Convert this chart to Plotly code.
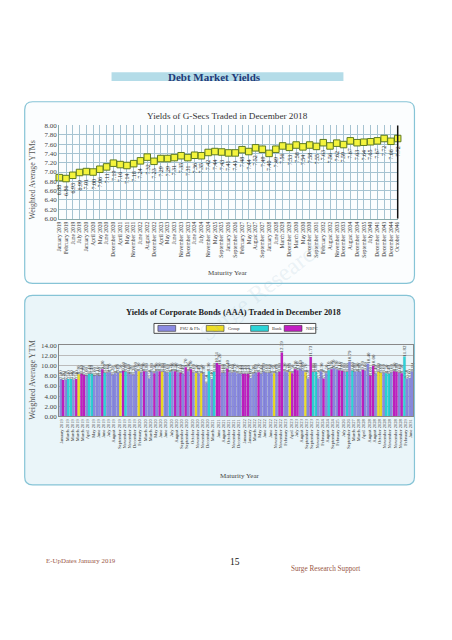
import plotly.graph_objects as go

W, H = 452, 640

# ---------------- Data: G-Secs ----------------
gsec_labels = [
    "January 2019", "February 2019", "June 2019", "July 2019", "January 2020",
    "April 2020", "May 2020", "June 2020", "December 2020", "April 2021",
    "May 2021", "November 2021", "June 2022", "August 2022", "December 2022",
    "April 2023", "May 2023", "June 2023", "November 2023", "December 2023",
    "June 2024", "July 2024", "November 2024", "May 2025", "September 2025",
    "January 2026", "September 2026", "February 2027", "May 2027", "August 2027",
    "September 2027", "January 2028", "June 2028", "March 2029", "December 2029",
    "March 2030", "May 2030", "December 2030", "September 2031", "February 2032",
    "August 2032", "November 2033", "December 2033", "August 2034", "December 2034",
    "September 2035", "July 2040", "December 2041", "December 2043", "December 2044",
    "October 2046",
]
gsec_yields = [
    6.88, 6.86, 6.93, 6.99, 7.01, 7.00, 7.06, 7.11, 7.19, 7.16,
    7.14, 7.18, 7.24, 7.32, 7.23, 7.29, 7.29, 7.31, 7.35, 7.31,
    7.36, 7.35, 7.42, 7.44, 7.43, 7.41, 7.41, 7.48, 7.44, 7.52,
    7.49, 7.40, 7.49, 7.56, 7.53, 7.58, 7.54, 7.58, 7.55, 7.63,
    7.56, 7.62, 7.59, 7.67, 7.63, 7.64, 7.65, 7.67, 7.72, 7.66,
    7.72,
]
gsec_yticks = [6.00, 6.20, 6.40, 6.60, 6.80, 7.00, 7.20, 7.40, 7.60, 7.80, 8.00]

# ---------------- Data: Corporate bonds (AAA) ----------------
bond_labels = [
    "January 2019", "March 2019", "March 2019", "March 2019", "March 2019",
    "April 2019", "May 2019", "June 2019", "June 2019", "July 2019",
    "August 2019", "September 2019", "November 2019", "November 2019", "December 2019",
    "February 2020", "March 2020", "March 2020", "May 2020", "June 2020",
    "June 2020", "July 2020", "August 2020", "September 2020", "September 2020",
    "October 2020", "November 2020", "November 2020", "December 2020", "March 2021",
    "June 2021", "August 2021", "October 2021", "November 2021", "December 2021",
    "January 2022", "January 2022", "March 2022", "May 2022", "June 2022",
    "June 2022", "November 2022", "November 2022", "February 2023", "April 2023",
    "July 2023", "August 2023", "September 2023", "September 2023", "November 2023",
    "February 2024", "August 2024", "September 2024", "February 2025", "July 2026",
    "September 2026", "March 2027", "March 2028", "April 2028", "August 2028",
    "August 2028", "October 2028", "November 2028", "November 2028", "November 2028",
    "November 2028", "February 2029", "June 2031",
]
bond_yield_a = [
    7.40, 7.30, 7.40, 7.40, 8.40, 8.00, 8.40, 8.10, 9.30, 8.60,
    8.20, 8.60, 9.00, 8.60, 8.20, 8.90, 8.90, 7.50, 8.50, 8.90,
    8.80, 8.70, 8.90, 8.60, 9.70, 9.30, 8.50, 8.50, 6.50, 7.40,
    10.51, 8.60, 9.40, 8.60, 8.50, 8.40, 8.40, 8.30, 8.70, 8.80,
    8.60, 8.50, 8.80, 8.90, 8.80, 9.30, 9.40, 8.70, 11.73, 8.80,
    8.90, 8.50, 9.30, 9.30, 9.00, 8.80, 9.00, 8.90, 9.20, 10.40,
    10.00, 8.80, 8.60, 8.40, 8.90, 8.60, 11.82, 7.60,
]
bond_issuer_a = [
    "P", "P", "B", "N", "N", "P", "B", "P", "N", "P",
    "P", "P", "N", "P", "P", "G", "N", "P", "N", "N",
    "P", "B", "N", "N", "N", "N", "G", "G", "P", "P",
    "N", "P", "N", "P", "P", "N", "N", "P", "N", "P",
    "P", "G", "N", "P", "G", "N", "P", "G", "N", "B",
    "P", "P", "N", "P", "N", "B", "B", "P", "N", "P",
    "N", "G", "P", "B", "N", "P", "B", "P",
]
bond_yield_b = [
    7.20, 7.40, 7.30, 8.30, 8.20, 8.40, 8.00, 8.00, 8.60, 8.70,
    8.50, 8.50, 8.80, 8.30, 9.00, 8.60, 8.80, 8.80, 8.90, 8.80,
    8.60, 8.90, 8.70, 8.40, 8.90, 8.60, 8.40, 8.30, 8.90, 8.80,
    10.20, 8.60, 8.70, 8.70, 8.40, 8.40, 7.60, 8.60, 8.40, 8.60,
    8.50, 8.60, 12.59, 8.70, 8.50, 9.10, 9.00, 7.50, 8.80, 7.50,
    7.50, 9.10, 9.50, 9.10, 8.80, 10.79, 8.80, 8.80, 9.00, 8.00,
    8.40, 8.60, 8.50, 8.60, 8.80, 8.50, 7.50, 8.84,
]
bond_issuer_b = [
    "N", "B", "P", "G", "N", "B", "P", "P", "B", "P",
    "P", "G", "B", "P", "P", "P", "P", "P", "P", "G",
    "P", "P", "P", "P", "P", "P", "P", "P", "B", "B",
    "N", "P", "P", "P", "P", "N", "P", "P", "P", "P",
    "P", "P", "N", "P", "N", "N", "P", "P", "B", "P",
    "N", "B", "P", "N", "P", "P", "P", "P", "P", "N",
    "P", "G", "B", "P", "N", "N", "P", "P",
]
issuer_codes = ["P", "G", "B", "N"]
issuer_names = ["PSU & FIs", "Group", "Bank", "NBFC"]
bond_yticks = [0, 2, 4, 6, 8, 10, 12, 14]

# ---------------- Styles ----------------
issuer_colors = {"P": "#8A8AE2", "G": "#EEDD22", "B": "#2CD4D8", "N": "#C21EC2"}
SERIF = "Liberation Serif, Times New Roman, serif"


def px(x):
    return x / W


def py(y):
    return 1 - y / H


def rounded_box(x0, y0, x1, y1, r, line, fill):
    rx, ry = r / W, r / H
    a0, a1 = px(x0), px(x1)
    b0, b1 = py(y0), py(y1)  # b0 top, b1 bottom
    path = (
        f"M {a0 + rx},{b0} L {a1 - rx},{b0} Q {a1},{b0} {a1},{b0 - ry} "
        f"L {a1},{b1 + ry} Q {a1},{b1} {a1 - rx},{b1} "
        f"L {a0 + rx},{b1} Q {a0},{b1} {a0},{b1 + ry} "
        f"L {a0},{b0 - ry} Q {a0},{b0} {a0 + rx},{b0} Z"
    )
    return dict(type="path", path=path, xref="paper", yref="paper",
                line=dict(color=line, width=1.2), fillcolor=fill, layer="below")


fig = go.Figure()

# G-Sec line
gx = list(range(len(gsec_labels)))
fig.add_trace(go.Scatter(
    x=gx, y=gsec_yields, mode="lines+markers",
    line=dict(color="#3C7A3A", width=1.2),
    marker=dict(symbol="square", size=6.5, color="#F4F43C",
                line=dict(color="#5E7A22", width=1)),
    showlegend=False, cliponaxis=False, xaxis="x", yaxis="y",
))

# Corporate bonds bars (two bars per maturity)
bx = list(range(len(bond_labels)))
for yv, iss in ((bond_yield_a, bond_issuer_a), (bond_yield_b, bond_issuer_b)):
    fig.add_trace(go.Bar(
        x=bx, y=yv, xaxis="x2", yaxis="y2",
        marker=dict(color=[issuer_colors[t] for t in iss],
                    line=dict(color="rgba(60,60,90,0.35)", width=0.3)),
        text=[f"{v:.2f}" for v in yv], textposition="outside", textangle=-90,
        textfont=dict(size=5, color="#333", family=SERIF),
        constraintext="none", cliponaxis=False, showlegend=False,
    ))

annotations = []
# G-Sec value labels
for i, v in enumerate(gsec_yields):
    annotations.append(dict(
        x=i, y=v, xref="x", yref="y", text=f"{v:.2f}", showarrow=False,
        textangle=-90, yanchor="top", yshift=-5,
        font=dict(size=6, color="#222", family=SERIF),
    ))


def txt(x, y, s, size, color="#333", bold=False, angle=0, xanchor="center", family=SERIF):
    return dict(x=px(x), y=py(y), xref="paper", yref="paper", showarrow=False,
                text=f"<b>{s}</b>" if bold else s, textangle=angle, xanchor=xanchor,
                yanchor="middle", font=dict(size=size, color=color, family=family))


annotations += [
    txt(214, 73.5, "Debt Market Yields", 11, color="#1F3A78", bold=True),
    txt(228, 113, "Yields of G-Secs Traded in December 2018", 9.2, color="#333"),
    txt(30, 178, "Weighted Average YTMs", 7.8, color="#555", angle=-90),
    txt(228, 272, "Maturity Year", 7, color="#444"),
    txt(234, 312, "Yields of Corporate Bonds (AAA) Traded in December 2018", 8.4, color="#222", bold=True),
    txt(30, 380, "Weighted Average YTM", 8.2, color="#555", angle=-90),
    txt(240, 478, "Maturity Year", 7, color="#444"),
    txt(42, 564, "E-UpDates January 2019", 6.9, color="#9A5646", xanchor="left"),
    txt(235, 565, "15", 9.5, color="#111"),
    txt(290, 572, "Surge Research Support", 7.2, color="#9A5646", xanchor="left"),
    txt(262, 290, "Surge Research", 24, color="rgba(150,185,205,0.18)", angle=-38),
]

shapes = [
    dict(type="rect", xref="paper", yref="paper", x0=px(110), x1=px(345),
         y0=py(78), y1=py(69), fillcolor="#B4DCE8", line=dict(width=0), layer="below"),
    rounded_box(22, 99, 417, 283, 8, "#86C4D6", "#FBFDFE"),
    rounded_box(22, 295, 417, 487, 8, "#86C4D6", "#EAF5F9"),
    dict(type="line", xref="x domain", yref="y domain", x0=1, x1=1, y0=0, y1=1,
         line=dict(color="#111", width=1.5)),
    # legend frame
    dict(type="rect", xref="paper", yref="paper", x0=px(153), x1=px(317),
         y0=py(333.5), y1=py(323.5), fillcolor="white",
         line=dict(color="#222", width=0.8)),
]

# Custom legend (swatch + name per issuer)
leg_x = [157, 206, 251, 285]
for code, name, lx in zip(issuer_codes, issuer_names, leg_x):
    shapes.append(dict(type="rect", xref="paper", yref="paper",
                       x0=px(lx), x1=px(lx + 18), y0=py(331.5), y1=py(325.5),
                       fillcolor=issuer_colors[code],
                       line=dict(color="#333", width=0.6)))
    annotations.append(txt(lx + 20, 328.5, name, 4.5, color="#333", xanchor="left"))

fig.update_layout(
    width=W, height=H, margin=dict(l=0, r=0, t=0, b=0),
    paper_bgcolor="white", plot_bgcolor="#D8EDF3",
    barmode="group", bargap=0.08, bargroupgap=0.0,
    showlegend=False,
    annotations=annotations, shapes=shapes,
    font=dict(family=SERIF),
    xaxis=dict(domain=[px(57), px(400)], range=[0, len(gsec_labels) - 1],
               tickmode="array", tickvals=gx, ticktext=gsec_labels, tickangle=-90,
               tickfont=dict(size=5.5, color="#333", family=SERIF),
               showgrid=True, gridcolor="#A6C3D1", gridwidth=0.6,
               showline=True, linecolor="#8AA", zeroline=False, ticks=""),
    yaxis=dict(domain=[py(217.3), py(123)], range=[6, 8],
               tickmode="array", tickvals=gsec_yticks,
               ticktext=[f"{v:.2f}" for v in gsec_yticks],
               tickfont=dict(size=7, color="#444", family=SERIF),
               showgrid=True, gridcolor="#A6C3D1", gridwidth=0.6,
               showline=True, linecolor="#8AA", zeroline=False, ticks=""),
    xaxis2=dict(domain=[px(57), px(416)], range=[-0.5, len(bond_labels) - 0.5],
                tickmode="array", tickvals=bx, ticktext=bond_labels, tickangle=-90,
                tickfont=dict(size=4.5, color="#333", family=SERIF),
                showgrid=False, showline=True, linecolor="#888", mirror=True,
                zeroline=False, ticks="", anchor="y2"),
    yaxis2=dict(domain=[py(417.7), py(345.7)], range=[0, 14],
                tickmode="array", tickvals=bond_yticks,
                ticktext=[f"{v:.2f}" for v in bond_yticks],
                tickfont=dict(size=7, color="#444", family=SERIF),
                showgrid=True, gridcolor="#BBBBBB", gridwidth=0.6,
                showline=True, linecolor="#888", mirror=True, zeroline=False,
                ticks="", anchor="x2"),
)

fig.write_html(
    "out.html",
    post_script="document.body.style.margin='0';document.body.style.padding='0';",
    config={"displayModeBar": False},
)
